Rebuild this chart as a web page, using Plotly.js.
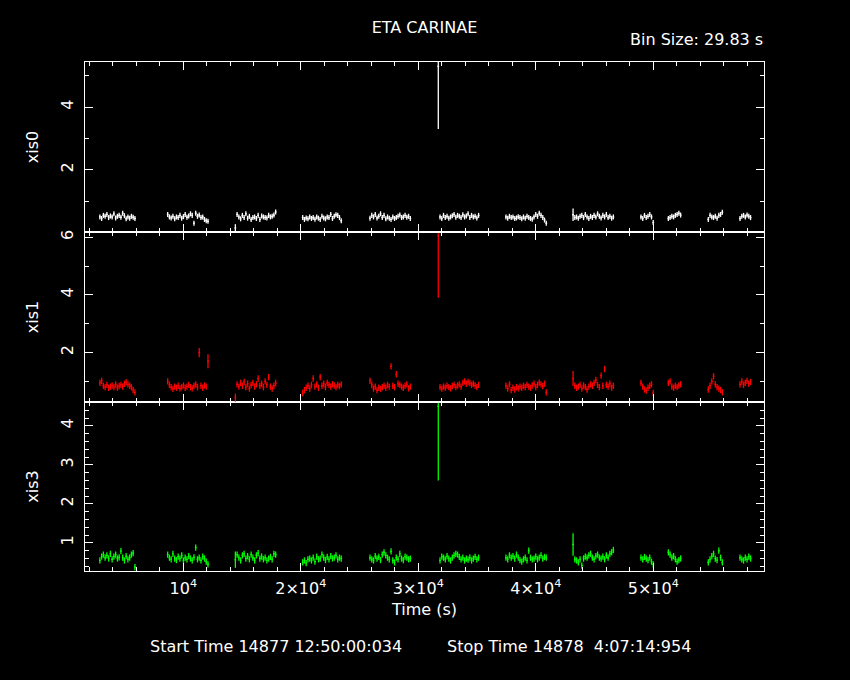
<!DOCTYPE html>
<html>
<head>
<meta charset="utf-8">
<script src="https://cdn.plot.ly/plotly-3.0.1.min.js"></script>
<style>html,body{margin:0;padding:0;background:#000;}#chart{width:850px;height:680px;}</style>
</head>
<body>
<div id="chart"></div>
<script>
// ---- data ----
const STEP = 149.15; // plotted bin spacing (s)
const segStart = [2900, 8670, 14430, 20160, 25890, 31700, 37460, 43170, 48950, 51280, 54680, 57380];
const segCount = [21, 24, 24, 23, 24, 24, 24, 24, 8, 8, 9, 7];

const xis0Rate = [
  0.50,0.45,0.55,0.52,0.58,0.48,0.53,0.50,0.60,0.47,0.52,0.55,0.49,0.62,0.54,0.44,0.50,0.46,0.52,0.49,0.45,
  0.58,0.50,0.47,0.52,0.44,0.50,0.48,0.55,0.46,0.51,0.58,0.49,0.53,0.60,0.55,0.30,0.62,0.52,0.56,0.48,0.50,0.42,0.38,0.36,
  0.15,0.58,0.50,0.44,0.55,0.48,0.60,0.46,0.52,0.42,0.48,0.50,0.45,0.55,0.42,0.53,0.50,0.48,0.47,0.55,0.50,0.52,0.56,0.66,
  0.48,0.42,0.47,0.44,0.50,0.45,0.48,0.43,0.50,0.46,0.42,0.52,0.47,0.44,0.50,0.48,0.58,0.45,0.52,0.57,0.55,0.48,0.38,
  0.46,0.55,0.50,0.58,0.47,0.52,0.60,0.48,0.55,0.44,0.50,0.46,0.42,0.50,0.45,0.48,0.52,0.56,0.48,0.50,0.55,0.49,0.52,0.45,
  5.30,0.50,0.45,0.55,0.48,0.52,0.46,0.50,0.54,0.58,0.49,0.55,0.52,0.48,0.57,0.50,0.53,0.60,0.48,0.55,0.50,0.52,0.47,0.55,
  0.50,0.46,0.52,0.48,0.50,0.45,0.47,0.51,0.48,0.44,0.50,0.46,0.52,0.48,0.45,0.43,0.50,0.58,0.52,0.62,0.55,0.48,0.40,0.30,
  0.57,0.48,0.50,0.46,0.52,0.55,0.48,0.58,0.50,0.45,0.52,0.48,0.55,0.50,0.60,0.52,0.47,0.55,0.50,0.58,0.48,0.52,0.46,0.50,
  0.50,0.45,0.55,0.48,0.52,0.58,0.50,0.32,
  0.45,0.48,0.52,0.50,0.55,0.58,0.62,0.56,
  0.42,0.55,0.50,0.48,0.52,0.46,0.55,0.58,0.65,
  0.45,0.52,0.55,0.50,0.56,0.52,0.48
];
const xis0ErrDefault = 0.08;
const xis0ErrSpecial = [[2,0,0.12],[5,0,2.0],[7,0,0.20]]; // [segment, index, error]

const xis1Rate = [
  0.95,1.02,0.85,0.80,0.88,0.78,0.82,0.86,0.80,0.90,0.78,0.84,0.88,0.82,0.92,0.97,0.90,0.85,0.80,0.70,0.62,
  1.00,0.88,0.80,0.74,0.82,0.78,0.85,0.76,0.80,0.86,0.78,0.82,0.88,0.80,0.76,0.84,0.90,0.80,2.00,0.85,0.78,0.86,0.82,1.70,
  0.44,0.90,0.82,0.95,0.85,0.98,0.80,0.92,0.75,0.88,0.95,0.82,0.90,1.10,0.85,0.92,0.80,1.00,0.88,1.15,0.82,0.75,0.85,0.95,
  0.60,0.70,0.78,0.85,0.75,0.88,1.10,0.82,0.90,0.78,1.15,0.85,0.92,0.80,0.95,0.88,0.82,0.90,0.86,0.80,0.88,0.84,0.90,
  1.02,0.88,0.75,0.82,0.70,0.78,0.74,0.80,0.85,0.78,0.88,0.82,1.52,0.85,0.80,1.25,0.92,0.88,0.82,0.78,0.85,0.90,0.76,0.82,
  6.05,0.80,0.75,0.82,0.78,0.85,0.80,0.76,0.84,0.88,0.80,0.86,0.90,0.82,0.95,1.00,0.92,0.98,0.94,0.88,0.92,0.86,0.80,0.88,
  0.85,0.75,0.90,0.70,0.78,0.72,0.80,0.76,0.82,0.78,0.85,0.80,0.88,0.82,0.78,0.86,0.92,0.80,0.88,0.96,0.90,0.84,0.92,0.62,
  1.10,0.85,0.78,0.82,0.88,0.75,0.86,0.80,0.72,0.82,0.90,0.85,0.95,1.05,0.88,0.80,1.20,0.85,1.43,0.88,0.82,0.92,0.78,0.85,
  0.95,0.82,0.72,0.68,0.78,0.85,0.90,0.60,
  0.95,1.00,0.82,0.78,0.85,0.80,0.86,0.90,
  0.72,0.85,1.00,1.18,0.90,0.80,0.75,0.70,0.62,
  0.90,1.00,0.88,0.95,1.02,0.92,0.98
];
const xis1ErrDefault = 0.11;
const xis1ErrSpecial = [[1,18,0.16],[1,23,0.24],[2,0,0.14],[5,0,2.15],[7,0,0.26]];

const xis3Rate = [
  0.55,0.65,0.70,0.62,0.68,0.60,0.72,0.58,0.65,0.70,0.60,0.63,0.79,0.62,0.55,0.66,0.58,0.62,0.70,0.74,0.38,
  0.70,0.62,0.58,0.72,0.60,0.56,0.65,0.60,0.68,0.55,0.62,0.58,0.66,0.60,0.55,0.63,0.88,0.58,0.62,0.55,0.65,0.60,0.52,0.45,
  0.57,0.70,0.62,0.55,0.68,0.72,0.60,0.66,0.58,0.70,0.62,0.55,0.68,0.74,0.60,0.65,0.58,0.62,0.55,0.60,0.64,0.58,0.72,0.70,
  0.50,0.55,0.48,0.58,0.60,0.55,0.62,0.52,0.65,0.58,0.60,0.70,0.62,0.56,0.64,0.58,0.66,0.60,0.62,0.68,0.58,0.62,0.60,
  0.62,0.58,0.55,0.66,0.60,0.64,0.56,0.70,0.76,0.68,0.62,0.58,0.78,0.55,0.50,0.62,0.58,0.72,0.60,0.56,0.65,0.62,0.58,0.60,
  4.50,0.55,0.65,0.62,0.58,0.66,0.60,0.55,0.62,0.68,0.72,0.70,0.64,0.58,0.62,0.55,0.60,0.57,0.62,0.55,0.60,0.64,0.58,0.62,
  0.62,0.58,0.68,0.62,0.66,0.60,0.70,0.62,0.56,0.52,0.58,0.62,0.55,0.80,0.62,0.58,0.60,0.65,0.58,0.62,0.68,0.60,0.64,0.62,
  0.96,0.58,0.55,0.50,0.58,0.42,0.60,0.65,0.62,0.68,0.72,0.62,0.58,0.66,0.70,0.62,0.60,0.65,0.58,0.68,0.62,0.72,0.76,0.82,
  0.62,0.58,0.64,0.60,0.56,0.62,0.52,0.45,
  0.76,0.70,0.62,0.66,0.58,0.52,0.56,0.60,
  0.50,0.58,0.66,0.72,0.60,0.56,0.80,0.62,0.50,
  0.62,0.58,0.55,0.62,0.58,0.65,0.60
];
const xis3ErrDefault = 0.08;
const xis3ErrSpecial = [[2,0,0.21],[5,0,1.9],[7,0,0.29]];

const xTickVals = [10000, 20000, 30000, 40000, 50000];
const xTickText = ['10<sup>4</sup>', '2\u00d710<sup>4</sup>', '3\u00d710<sup>4</sup>', '4\u00d710<sup>4</sup>', '5\u00d710<sup>4</sup>'];

// ---- helpers ----
function buildTimes() {
  const t = [];
  segStart.forEach((s, k) => { for (let i = 0; i < segCount[k]; i++) t.push(s + i * STEP); });
  return t;
}
function buildErrors(def, special) {
  const e = [];
  segCount.forEach(n => { for (let i = 0; i < n; i++) e.push(def); });
  special.forEach(([seg, idx, v]) => {
    let off = 0; for (let k = 0; k < seg; k++) off += segCount[k];
    e[off + idx] = v;
  });
  return e;
}
const times = buildTimes();

function trace(y, err, color, xa, ya) {
  return {
    type: 'scatter', mode: 'markers', x: times, y: y,
    xaxis: xa, yaxis: ya,
    marker: {size: 1, color: color},
    error_y: {type: 'data', array: err, visible: true, color: color, thickness: 1.3, width: 0},
    error_x: {type: 'constant', value: STEP / 2, visible: true, color: color, thickness: 1.3, width: 0},
    hoverinfo: 'skip', showlegend: false
  };
}

const data = [
  trace(xis0Rate, buildErrors(xis0ErrDefault, xis0ErrSpecial), '#ffffff', 'x3', 'y'),
  trace(xis1Rate, buildErrors(xis1ErrDefault, xis1ErrSpecial), '#ff0000', 'x2', 'y2'),
  trace(xis3Rate, buildErrors(xis3ErrDefault, xis3ErrSpecial), '#00ff00', 'x', 'y3')
];

const XR = [1634, 59420];
const common = {
  showline: true, linecolor: '#ffffff', linewidth: 1, mirror: 'allticks',
  ticks: 'inside', ticklen: 8, tickwidth: 1, tickcolor: '#ffffff',
  showgrid: false, zeroline: false, fixedrange: true
};
const fnt = {family: 'DejaVu Sans, Liberation Sans, sans-serif', size: 16, color: '#ffffff'};
const tickFnt = {family: 'DejaVu Sans, Liberation Sans, sans-serif', size: 16, color: '#ffffff'};

function xAxis(anchor, labels) {
  return Object.assign({}, common, {
    anchor: anchor, range: XR, domain: [0, 1],
    tickmode: 'array', tickvals: xTickVals, ticktext: xTickText,
    showticklabels: labels, tickfont: tickFnt, ticklabelstandoff: 3,
    minor: {tickmode: 'linear', tick0: 0, dtick: 2000, ticklen: 4, tickcolor: '#ffffff', tickwidth: 1, ticks: 'inside', showgrid: false}
  });
}
function yAxis(anchor, domain, range, dtick, minorDtick, title) {
  return Object.assign({}, common, {
    anchor: anchor, domain: domain, range: range,
    tickmode: 'linear', tick0: 0, dtick: dtick,
    tickangle: -90, tickfont: tickFnt, ticklabelstandoff: 5,
    minor: {tickmode: 'linear', tick0: 0, dtick: minorDtick, ticklen: 4, tickcolor: '#ffffff', tickwidth: 1, ticks: 'inside', showgrid: false},
    title: {text: title, font: fnt, standoff: 14}
  });
}

const layout = {
  width: 850, height: 680,
  paper_bgcolor: '#000000', plot_bgcolor: '#000000',
  margin: {l: 85, r: 86, t: 62, b: 109},
  font: fnt, showlegend: false,
  title: {text: 'ETA CARINAE', font: fnt, x: 0.5, xref: 'paper', y: 1 - 27 / 680, yref: 'container', yanchor: 'middle'},
  xaxis: Object.assign(xAxis('y3', true), {title: {text: 'Time (s)', font: fnt, standoff: 6}}),
  xaxis2: xAxis('y2', false),
  xaxis3: xAxis('y', false),
  yaxis: yAxis('x3', [0.666, 1], [0.02, 5.44], 2, 1, 'xis0'),
  yaxis2: yAxis('x2', [0.332, 0.666], [0.286, 6.18], 2, 1, 'xis1'),
  yaxis3: yAxis('x', [0, 0.332], [0.28, 4.61], 1, 0.2, 'xis3'),
  annotations: [
    {text: 'Bin Size: 29.83 s', xref: 'paper', yref: 'paper', x: 1.0015, y: (571 - 39) / 509, xanchor: 'right', yanchor: 'middle', showarrow: false, font: fnt},
    {text: 'Start Time 14877 12:50:00:034', xref: 'paper', yref: 'paper', x: (148 - 85) / 679, y: (571 - 646) / 509, xanchor: 'left', yanchor: 'middle', showarrow: false, font: fnt},
    {text: 'Stop Time 14878 \u00a04:07:14:954', xref: 'paper', yref: 'paper', x: (445 - 85) / 679, y: (571 - 646) / 509, xanchor: 'left', yanchor: 'middle', showarrow: false, font: fnt}
  ]
};

Plotly.newPlot('chart', data, layout, {staticPlot: true, displayModeBar: false});
</script>
</body>
</html>
